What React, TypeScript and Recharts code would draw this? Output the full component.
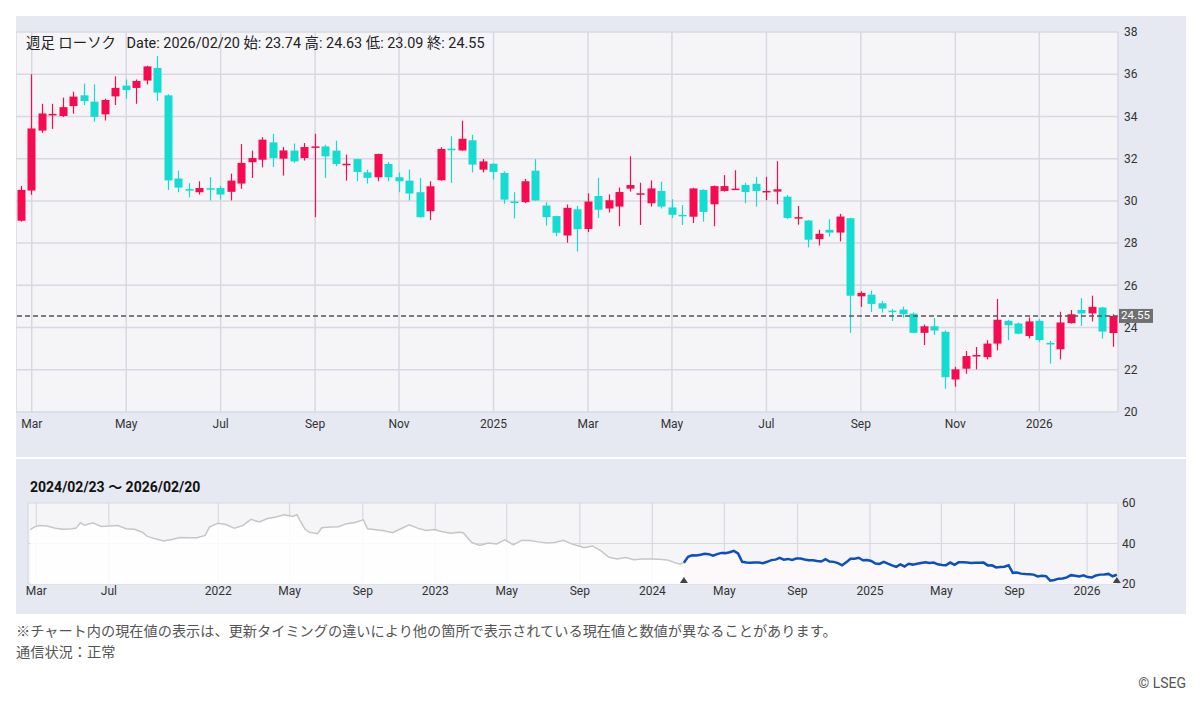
import React from 'react';
import {
  ComposedChart, Bar, Area, XAxis, YAxis, CartesianGrid, ReferenceLine, ReferenceDot,
} from 'recharts';

const FONT = "Roboto, 'Noto Sans CJK JP', sans-serif";
const PANEL = '#e6e9f1';
const PLOT = '#f5f5f8';
const GRID = '#d8d8e3';
const RED = '#f70a50';
const CYAN = '#14dcd2';

// weekly candles (week ending Friday)
const DATES = [
  '2024-02-23', '2024-03-01', '2024-03-08', '2024-03-15', '2024-03-22', '2024-03-29',
  '2024-04-05', '2024-04-12', '2024-04-19', '2024-04-26',
  '2024-05-03', '2024-05-10', '2024-05-17', '2024-05-24', '2024-05-31',
  '2024-06-07', '2024-06-14', '2024-06-21', '2024-06-28',
  '2024-07-05', '2024-07-12', '2024-07-19', '2024-07-26',
  '2024-08-02', '2024-08-09', '2024-08-16', '2024-08-23', '2024-08-30',
  '2024-09-06', '2024-09-13', '2024-09-20', '2024-09-27',
  '2024-10-04', '2024-10-11', '2024-10-18', '2024-10-25',
  '2024-11-01', '2024-11-08', '2024-11-15', '2024-11-22', '2024-11-29',
  '2024-12-06', '2024-12-13', '2024-12-20', '2024-12-27',
  '2025-01-03', '2025-01-10', '2025-01-17', '2025-01-24', '2025-01-31',
  '2025-02-07', '2025-02-14', '2025-02-21', '2025-02-28',
  '2025-03-07', '2025-03-14', '2025-03-21', '2025-03-28',
  '2025-04-04', '2025-04-11', '2025-04-18', '2025-04-25',
  '2025-05-02', '2025-05-09', '2025-05-16', '2025-05-23', '2025-05-30',
  '2025-06-06', '2025-06-13', '2025-06-20', '2025-06-27',
  '2025-07-04', '2025-07-11', '2025-07-18', '2025-07-25',
  '2025-08-01', '2025-08-08', '2025-08-15', '2025-08-22', '2025-08-29',
  '2025-09-05', '2025-09-12', '2025-09-19', '2025-09-26',
  '2025-10-03', '2025-10-10', '2025-10-17', '2025-10-24', '2025-10-31',
  '2025-11-07', '2025-11-14', '2025-11-21', '2025-11-28',
  '2025-12-05', '2025-12-12', '2025-12-19', '2025-12-26',
  '2026-01-02', '2026-01-09', '2026-01-16', '2026-01-23', '2026-01-30',
  '2026-02-06', '2026-02-13', '2026-02-20',
];

const OPEN = [
  29.06, 30.49, 33.33, 34.07, 34.02, 34.49, 35.00, 34.70, 34.10, 34.95,
  35.46, 35.35, 35.70, 36.30, 35.00, 31.06, 30.56, 30.41, 30.60, 30.61,
  30.43, 30.82, 31.83, 31.95, 32.77, 32.00, 32.38, 32.03, 32.55, 32.58,
  32.38, 31.72, 31.98, 31.35, 31.12, 31.75, 31.12, 30.96, 30.41, 29.51,
  30.98, 32.47, 32.39, 32.87, 31.48, 31.76, 31.32, 29.97, 29.94, 31.43,
  29.78, 29.28, 28.36, 29.60, 28.67, 30.23, 29.64, 29.73, 30.58, 30.33,
  29.89, 30.47, 29.69, 29.34, 29.25, 30.52, 29.84, 30.47, 30.55, 30.75,
  30.81, 30.45, 30.44, 30.20, 29.20, 29.07, 28.19, 28.63, 28.50, 29.18,
  25.48, 25.56, 25.15, 24.80, 24.85, 24.66, 23.75, 24.06, 23.80, 21.54,
  22.05, 22.68, 22.60, 23.24, 24.32, 24.19, 23.60, 24.32, 23.27, 22.97,
  24.21, 24.83, 24.67, 24.95, 23.74,
];
const HIGH = [
  30.71, 36.00, 34.60, 34.60, 34.89, 35.17, 35.56, 35.52, 34.84, 35.90,
  35.75, 35.75, 36.40, 36.87, 35.05, 31.43, 30.84, 30.93, 31.13, 30.72,
  31.29, 32.69, 32.38, 33.02, 33.18, 32.55, 32.72, 32.74, 33.18, 32.66,
  32.85, 32.19, 32.00, 31.48, 32.24, 31.84, 31.35, 31.48, 31.09, 30.93,
  32.54, 33.06, 33.80, 33.13, 31.98, 31.78, 31.40, 30.41, 31.04, 31.98,
  29.94, 29.30, 29.83, 29.76, 30.36, 31.09, 30.31, 30.63, 32.11, 30.86,
  30.97, 30.91, 30.08, 29.80, 30.62, 30.55, 30.73, 31.22, 31.45, 30.86,
  31.14, 31.14, 31.88, 30.28, 29.76, 29.10, 28.63, 29.13, 29.39, 29.20,
  25.72, 25.75, 25.26, 24.87, 24.99, 24.72, 24.14, 24.46, 23.87, 22.14,
  22.89, 23.08, 23.40, 25.35, 24.37, 24.24, 24.48, 24.40, 23.37, 24.75,
  24.83, 25.40, 25.51, 24.98, 24.63,
];
const LOW = [
  29.02, 30.29, 33.22, 33.41, 33.97, 34.13, 34.54, 33.75, 33.81, 34.54,
  34.84, 34.60, 35.52, 34.73, 30.52, 30.41, 30.17, 30.30, 30.02, 30.06,
  30.02, 30.57, 31.09, 31.59, 31.61, 31.20, 31.80, 31.91, 29.23, 31.09,
  31.64, 30.96, 30.93, 30.82, 30.93, 30.93, 30.41, 30.02, 29.20, 29.09,
  30.95, 30.85, 32.36, 31.35, 31.35, 31.01, 29.86, 29.17, 29.90, 30.00,
  28.83, 28.33, 28.02, 27.60, 28.52, 29.19, 29.45, 28.80, 30.44, 28.86,
  29.73, 29.64, 29.19, 28.86, 28.95, 29.02, 28.80, 30.44, 30.52, 29.89,
  29.73, 30.03, 29.84, 29.14, 28.87, 27.80, 27.89, 28.31, 28.08, 23.75,
  24.98, 24.74, 24.71, 24.31, 24.47, 23.73, 23.17, 23.65, 21.10, 21.20,
  21.81, 22.02, 22.49, 22.92, 23.40, 23.68, 23.49, 23.33, 22.29, 22.49,
  24.19, 24.08, 24.29, 23.48, 23.09,
];
const CLOSE = [
  30.52, 33.43, 34.14, 34.12, 34.44, 34.94, 34.73, 33.98, 34.78, 35.35,
  35.25, 35.68, 36.37, 35.13, 30.97, 30.63, 30.52, 30.61, 30.56, 30.30,
  30.96, 31.80, 32.03, 32.90, 32.03, 32.39, 31.87, 32.55, 32.58, 32.11,
  31.75, 31.76, 31.37, 31.09, 32.22, 31.12, 30.93, 30.35, 29.23, 30.69,
  32.46, 32.45, 32.94, 31.72, 31.87, 31.37, 30.06, 29.94, 30.93, 30.02,
  29.23, 28.49, 29.67, 28.66, 29.97, 29.58, 30.03, 30.42, 30.75, 30.36,
  30.59, 29.73, 29.34, 29.30, 30.59, 29.48, 30.70, 30.70, 30.58, 30.42,
  30.47, 30.47, 30.55, 29.19, 29.23, 28.16, 28.44, 28.50, 29.26, 25.51,
  25.64, 25.12, 24.90, 24.77, 24.63, 23.75, 24.06, 23.86, 21.65, 22.02,
  22.65, 22.70, 23.24, 24.37, 24.11, 23.71, 24.29, 23.41, 23.24, 24.24,
  24.63, 24.67, 24.98, 23.81, 24.55,
];

const MAIN_TICKS = [
  '2024-03-01', '2024-05-03', '2024-07-05', '2024-09-06', '2024-11-01', '2025-01-03',
  '2025-03-07', '2025-05-02', '2025-07-04', '2025-09-05', '2025-11-07', '2026-01-02',
];
const MAIN_TICK_LABELS = ['Mar', 'May', 'Jul', 'Sep', 'Nov', '2025', 'Mar', 'May', 'Jul', 'Sep', 'Nov', '2026'];
const PRICE_TICKS = [20, 22, 24, 26, 28, 30, 32, 34, 36, 38];
const LAST_PRICE = 24.55;

// longer history shown in the navigator (before the selected range)
const HIST_DATES = [
  '2021-02-19', '2021-02-26', '2021-03-05', '2021-03-19', '2021-04-02', '2021-04-16', '2021-04-30',
  '2021-05-07', '2021-05-14', '2021-05-21', '2021-06-04', '2021-06-18', '2021-07-02', '2021-07-16',
  '2021-07-30', '2021-08-13', '2021-08-27', '2021-09-03', '2021-09-17', '2021-10-01', '2021-10-15',
  '2021-10-29', '2021-11-12', '2021-11-26', '2021-12-10', '2021-12-17', '2021-12-31', '2022-01-14',
  '2022-01-28', '2022-02-11', '2022-02-25', '2022-03-11', '2022-03-25', '2022-04-08', '2022-04-22',
  '2022-05-06', '2022-05-13', '2022-05-20', '2022-05-27', '2022-06-03', '2022-06-17', '2022-06-24',
  '2022-07-08', '2022-07-22', '2022-08-05', '2022-08-19', '2022-09-02', '2022-09-09', '2022-09-23',
  '2022-10-07', '2022-10-21', '2022-11-04', '2022-11-18', '2022-12-02', '2022-12-16', '2022-12-30',
  '2023-01-13', '2023-01-27', '2023-02-10', '2023-02-17', '2023-03-03', '2023-03-17', '2023-03-31',
  '2023-04-14', '2023-04-28', '2023-05-12', '2023-05-26', '2023-06-09', '2023-06-23', '2023-07-07',
  '2023-07-21', '2023-08-04', '2023-08-18', '2023-09-01', '2023-09-08', '2023-09-22', '2023-10-06',
  '2023-10-20', '2023-11-03', '2023-11-17', '2023-12-01', '2023-12-15', '2023-12-29', '2024-01-12',
  '2024-01-26', '2024-02-09', '2024-02-16',
];
const HIST_CLOSE = [
  46.8, 48.2, 48.9, 48.6, 47.5, 47.0, 47.3,
  47.6, 50.2, 49.0, 50.2, 48.4, 48.6, 48.9,
  47.3, 47.0, 45.5, 43.6, 42.3, 41.2, 42.0,
  43.0, 42.8, 42.8, 44.0, 48.1, 50.0, 49.4,
  47.5, 48.8, 51.9, 50.6, 52.3, 53.1, 54.2,
  53.4, 54.2, 50.6, 47.0, 45.6, 44.8, 47.8,
  48.1, 48.3, 49.8, 50.4, 51.7, 47.3, 46.8,
  46.3, 45.3, 47.3, 49.2, 47.6, 46.4, 46.9,
  45.8, 45.1, 45.6, 45.3, 40.5, 39.0, 40.2,
  39.8, 41.8, 39.3, 41.5, 41.5, 40.8, 40.3,
  40.5, 41.6, 39.8, 38.6, 37.9, 38.8, 36.5,
  33.2, 32.4, 33.1, 32.0, 32.3, 32.4, 32.2,
  31.9, 30.4, 29.9,
];

const NAV_TICKS = [
  '2021-03-01', '2021-07-01', '2022-01-01', '2022-05-01', '2022-09-01', '2023-01-01', '2023-05-01',
  '2023-09-01', '2024-01-01', '2024-05-01', '2024-09-01', '2025-01-01', '2025-05-01', '2025-09-01',
  '2026-01-01',
];
const NAV_TICK_LABELS = [
  'Mar', 'Jul', '2022', 'May', 'Sep', '2023', 'May', 'Sep', '2024', 'May', 'Sep', '2025', 'May', 'Sep', '2026',
];
const NAV_Y_TICKS = [20, 40, 60];

const ts = (d: string) => Date.parse(d + 'T00:00:00Z');

const candles = DATES.map((date, i) => ({
  date, open: OPEN[i], high: HIGH[i], low: LOW[i], close: CLOSE[i],
}));

const navRows = [
  ...HIST_DATES.map((d, i) => ({ t: ts(d), gray: HIST_CLOSE[i], blue: null as number | null })),
  { t: ts(DATES[0]), gray: CLOSE[0], blue: CLOSE[0] },
  ...DATES.slice(1).map((d, i) => ({ t: ts(d), gray: null as number | null, blue: CLOSE[i + 1] })),
];

const mainLabel = (v: string) => MAIN_TICK_LABELS[MAIN_TICKS.indexOf(v)] ?? '';
const navLabel = (v: number) => NAV_TICK_LABELS[NAV_TICKS.map(ts).indexOf(v)] ?? '';

const Candle = (props: any) => {
  const { x, y, width, height, payload } = props;
  const { open, close, high, low } = payload;
  const color = close >= open ? RED : CYAN;
  const top = Math.min(y, y + height);
  const h = Math.abs(height);
  const ratio = h / (high - low);
  const cx = Math.round(x + width / 2) + 0.5;
  const bodyTop = top + (high - Math.max(open, close)) * ratio;
  const bodyH = Math.max(1.5, Math.abs(open - close) * ratio);
  return (
    <g>
      <line x1={cx} x2={cx} y1={top} y2={top + h} stroke={color} strokeWidth={1.2} />
      <rect x={cx - 4} y={bodyTop} width={8} height={bodyH} fill={color} />
    </g>
  );
};

const PriceTag = (props: any) => {
  const { viewBox } = props;
  const x = viewBox.x + viewBox.width + 1;
  const y = viewBox.y;
  return (
    <g>
      <rect x={x} y={y - 7} width={34} height={14} fill="#707070" />
      <text x={x + 2} y={y + 3.5} fill="#fff" fontSize={11.5} fontFamily={FONT}>{LAST_PRICE.toFixed(2)}</text>
    </g>
  );
};

const Marker = (props: any) => {
  const { cx, cy } = props;
  return <polygon points={`${cx - 4},${cy - 1} ${cx + 4},${cy - 1} ${cx},${cy - 7}`} fill="#444" />;
};

const tickStyle = { fill: '#333', fontSize: 12, fontFamily: FONT };

export default function App() {
  return (
    <div style={{ position: 'absolute', left: 0, top: 0, width: 1200, height: 706, background: '#fff', fontFamily: FONT }}>
      <div style={{ position: 'absolute', left: 16, top: 16, width: 1170, height: 441, background: PANEL }} />
      <div style={{ position: 'absolute', left: 16, top: 16 }}>
        <ComposedChart width={1170} height={426} data={candles} margin={{ top: 16, right: 0, left: 0, bottom: 0 }}>
          <CartesianGrid stroke={GRID} strokeWidth={1.5} fill={PLOT} />
          <XAxis
            dataKey="date"
            ticks={MAIN_TICKS}
            interval={0}
            tickFormatter={mainLabel}
            axisLine={false}
            tickLine={false}
            tickSize={4}
            tickMargin={3}
            height={30}
            tick={tickStyle}
          />
          <YAxis
            orientation="right"
            domain={[20, 38]}
            ticks={PRICE_TICKS}
            allowDataOverflow
            axisLine={false}
            tickLine={false}
            tickSize={4}
            tickMargin={2}
            width={68}
            tick={{ ...tickStyle, textAnchor: 'start' }}
          />
          <Bar dataKey={(d: any) => [d.low, d.high]} barSize={8} shape={<Candle />} isAnimationActive={false} />
          <ReferenceLine y={LAST_PRICE} stroke="#555" strokeWidth={1.5} strokeDasharray="5 3" label={<PriceTag />} />
        </ComposedChart>
      </div>
      <div style={{ position: 'absolute', left: 26, top: 35, fontSize: 14.4, lineHeight: '18px', color: '#222', whiteSpace: 'pre' }}>
        {'週足 ローソク   Date: 2026/02/20 始: 23.74 高: 24.63 低: 23.09 終: 24.55'}
      </div>

      <div style={{ position: 'absolute', left: 16, top: 459, width: 1170, height: 155, background: PANEL }} />
      <div style={{ position: 'absolute', left: 30, top: 478, fontSize: 14, lineHeight: '18px', fontWeight: 700, color: '#111' }}>
        2024/02/23 〜 2026/02/20
      </div>
      <div style={{ position: 'absolute', left: 16, top: 495 }}>
        <ComposedChart width={1170} height={111} data={navRows} margin={{ top: 8, right: 0, left: 12, bottom: 0 }}>
          <CartesianGrid stroke={GRID} strokeWidth={1.2} fill={PLOT} />
          <XAxis
            dataKey="t"
            type="number"
            domain={[ts('2021-02-15'), ts('2026-02-22')]}
            ticks={NAV_TICKS.map(ts)}
            interval={0}
            tickFormatter={navLabel}
            axisLine={false}
            tickLine={false}
            tickSize={0}
            tickMargin={2}
            height={22}
            tick={tickStyle}
          />
          <YAxis
            orientation="right"
            domain={[20, 60]}
            ticks={NAV_Y_TICKS}
            axisLine={false}
            tickLine={false}
            tickSize={2}
            tickMargin={2}
            width={68}
            tick={{ ...tickStyle, textAnchor: 'start' }}
          />
          <Area type="linear" dataKey="gray" stroke="#c6c6c6" strokeWidth={1.5} fill="#ffffff" fillOpacity={0.85} dot={false} isAnimationActive={false} />
          <Area type="linear" dataKey="blue" stroke="#0b4fc0" strokeWidth={2.5} fill="#fdf8fa" fillOpacity={1} dot={false} isAnimationActive={false} />
          <ReferenceDot x={ts(DATES[0])} y={20} shape={<Marker />} />
          <ReferenceDot x={ts(DATES[DATES.length - 1])} y={20} shape={<Marker />} />
        </ComposedChart>
      </div>

      <div style={{ position: 'absolute', left: 16, top: 622, fontSize: 14.2, lineHeight: '18px', color: '#555' }}>
        ※チャート内の現在値の表示は、更新タイミングの違いにより他の箇所で表示されている現在値と数値が異なることがあります。
      </div>
      <div style={{ position: 'absolute', left: 16, top: 643, fontSize: 14.2, lineHeight: '18px', color: '#555' }}>
        通信状況：正常
      </div>
      <div style={{ position: 'absolute', right: 14, top: 674, fontSize: 14, lineHeight: '18px', color: '#555' }}>
        © LSEG
      </div>
    </div>
  );
}
